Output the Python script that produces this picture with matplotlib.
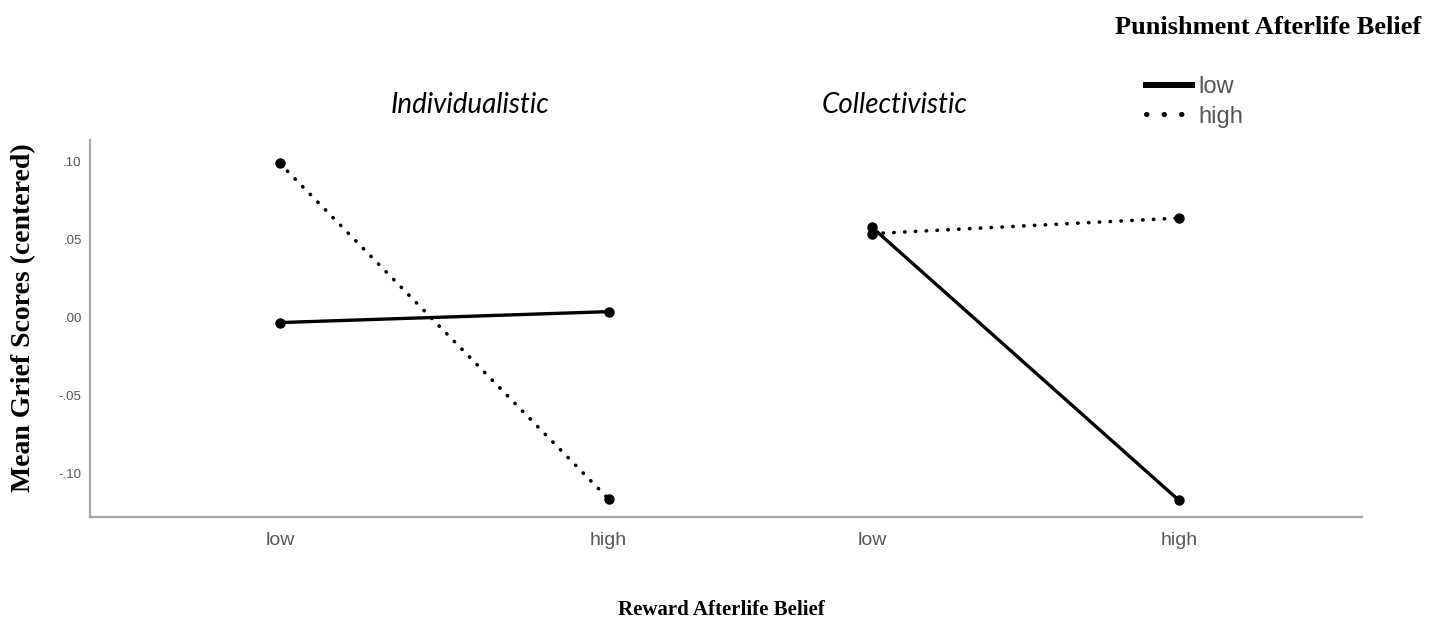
import matplotlib.pyplot as plt
from matplotlib.lines import Line2D

W, H = 1437, 626

reward_levels = ["low", "high"]
panels = ["Individualistic", "Collectivistic"]
# mean grief scores, punishment belief low (solid) / high (dotted)
indiv_low = [-0.003, 0.004]
indiv_high = [0.099, -0.116]
coll_low = [0.058, -0.117]
coll_high = [0.054, 0.064]
yticks = [-0.10, -0.05, 0.00, 0.05, 0.10]
ytick_labels = ["-.10", "-.05", ".00", ".05", ".10"]

GRAY = "#a6a6a6"
TXT = "#555555"
DOT = (0, (0.1, 2.9))

fig = plt.figure(figsize=(W / 100, H / 100), dpi=100)


def px_axes(x0, x1, y0, y1):
    return fig.add_axes([x0 / W, 1 - y1 / H, (x1 - x0) / W, (y1 - y0) / H])


ax1 = px_axes(90, 738, 140, 517)
ax2 = px_axes(738, 1362, 140, 517)

series = [(ax1, indiv_low, indiv_high, (-0.578, 1.394)),
          (ax2, coll_low, coll_high, (-0.437, 1.596))]

for ax, lo, hi, xl in series:
    x = range(len(reward_levels))
    ax.plot(x, lo, color="black", lw=2.4, marker="o", ms=6.5, solid_capstyle="round")
    ax.plot(x, hi, color="black", lw=2.6, ls=DOT, dash_capstyle="round",
            marker="o", ms=6.5)
    ax.set_xlim(*xl)
    ax.set_ylim(-0.1276, 0.114)
    ax.set_xticks(list(x))
    ax.set_xticklabels(reward_levels, fontsize=14, color=TXT, family="Liberation Sans")
    ax.tick_params(axis="x", length=0, pad=11)
    for s in ["top", "right"]:
        ax.spines[s].set_visible(False)
    for s in ["left", "bottom"]:
        ax.spines[s].set_color(GRAY)
        ax.spines[s].set_linewidth(1.6)

ax1.set_yticks(yticks)
ax1.set_yticklabels(ytick_labels, fontsize=9.5, color=TXT, family="Liberation Sans")
ax1.tick_params(axis="y", length=0, pad=6)
ax2.spines["left"].set_visible(False)
ax2.set_yticks([])

fig.text(470 / W, 1 - 105 / H, panels[0], ha="center", va="center",
         fontsize=20, style="italic", family="Lato")
fig.text(895 / W, 1 - 105 / H, panels[1], ha="center", va="center",
         fontsize=20, style="italic", family="Lato")

fig.text(1421 / W, 1 - 28 / H, "Punishment Afterlife Belief", ha="right", va="center",
         fontsize=19, weight="bold", family="Liberation Serif")
fig.text(24 / W, 1 - 318 / H, "Mean Grief Scores (centered)", ha="center", va="center",
         rotation=90, fontsize=20, weight="bold", family="Liberation Serif")
fig.text(721 / W, 1 - 610 / H, "Reward Afterlife Belief", ha="center", va="center",
         fontsize=15, weight="bold", family="Liberation Serif")

handles = [Line2D([], [], color="black", lw=4.3),
           Line2D([], [], color="black", lw=3.6, ls=(0, (0.1, 3.4)), dash_capstyle="round")]
fig.legend(handles, ["low", "high"], loc="center left",
           bbox_to_anchor=(1146 / W, 1 - 102 / H), frameon=False, borderpad=0,
           borderaxespad=0, handlelength=1.95, handletextpad=0.25, labelspacing=0.3,
           prop={"family": "Liberation Sans", "size": 17}, labelcolor=TXT)

fig.savefig("out.png", dpi=100)
